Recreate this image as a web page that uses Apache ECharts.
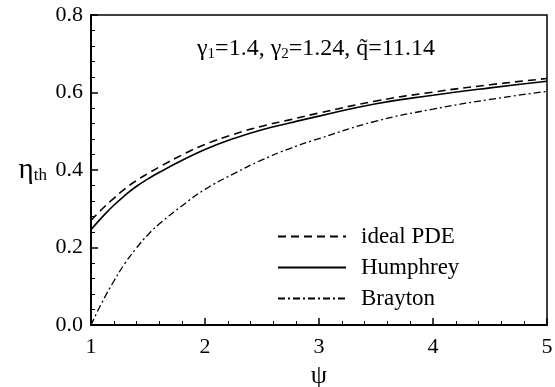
<!DOCTYPE html>
<html>
<head>
<meta charset="utf-8">
<script src="https://cdn.jsdelivr.net/npm/echarts@6/dist/echarts.min.js"></script>
<style>
  html, body { margin: 0; padding: 0; background: #fff; }
  #chart { width: 555px; height: 387px; }
</style>
</head>
<body>
<div id="chart"></div>
<script>
// psi values
const psi = [1.0, 1.1, 1.2, 1.3, 1.4, 1.5, 1.6, 1.8, 2.0, 2.25, 2.5, 2.75, 3.0, 3.5, 4.0, 4.5, 5.0]
const idealPDE = [0.27, 0.3, 0.327, 0.352, 0.373, 0.391, 0.408, 0.439, 0.466, 0.492, 0.513, 0.53, 0.547, 0.578, 0.601, 0.62, 0.636]
const humphrey = [0.246, 0.279, 0.309, 0.335, 0.358, 0.377, 0.394, 0.425, 0.453, 0.481, 0.504, 0.522, 0.539, 0.571, 0.593, 0.612, 0.629]
const brayton = [0.0, 0.06, 0.113, 0.16, 0.199, 0.233, 0.261, 0.308, 0.35, 0.39, 0.426, 0.456, 0.481, 0.526, 0.557, 0.582, 0.603]

const font = '"Liberation Serif", "DejaVu Serif", serif'
const pairs = (ys) => psi.map((x, i) => [x, ys[i]])

const myEcharts = echarts.init(document.getElementById('chart'))
myEcharts.setOption({
  animation: false,
  color: ['#000', '#000', '#000'],
  textStyle: { fontFamily: font, color: '#000' },
  grid: {
    left: 91, right: 8, top: 15, bottom: 62,
    outerBoundsMode: 'none',
    show: true, borderColor: '#000', borderWidth: 1.5
  },
  xAxis: {
    type: 'value',
    min: 1, max: 5, interval: 1,
    name: 'ψ',
    nameLocation: 'middle',
    nameGap: 31,
    nameTextStyle: { fontFamily: font, fontSize: 26, color: '#000' },
    axisLine: { lineStyle: { color: '#000', width: 2 } },
    axisTick: { inside: true, length: 7, lineStyle: { color: '#000', width: 1.5 } },
    minorTick: { show: true, splitNumber: 5, length: 4, lineStyle: { color: '#000', width: 1 } },
    axisLabel: { fontFamily: font, fontSize: 22, color: '#000', margin: 11 },
    splitLine: { show: false }
  },
  yAxis: {
    type: 'value',
    min: 0, max: 0.8, interval: 0.2,
    name: '{eta|η}{sub|th}',
    nameLocation: 'middle',
    nameRotate: 0,
    nameGap: 44,
    nameTextStyle: {
      rich: {
        eta: { fontFamily: font, fontSize: 29, color: '#000' },
        sub: { fontFamily: font, fontSize: 17, color: '#000', padding: [12, 0, 0, 0] }
      }
    },
    axisLine: { show: true, lineStyle: { color: '#000', width: 2 } },
    axisTick: { show: true, inside: true, length: 7, lineStyle: { color: '#000', width: 1.5 } },
    minorTick: { show: true, splitNumber: 5, length: 4, lineStyle: { color: '#000', width: 1 } },
    axisLabel: { fontFamily: font, fontSize: 22, color: '#000', margin: 8, formatter: (v) => v.toFixed(1) },
    splitLine: { show: false }
  },
  legend: {
    orient: 'vertical',
    left: 272,
    top: 220,
    itemWidth: 68,
    itemHeight: 14,
    itemGap: 8,
    itemStyle: { opacity: 0 },
    textStyle: { fontFamily: font, fontSize: 23, color: '#000', padding: [0, 0, 0, 10] },
    data: ['ideal PDE', 'Humphrey', 'Brayton']
  },
  graphic: [
    {
      type: 'text',
      left: 197,
      top: 37,
      style: {
        text: '{t|γ}{s|1}{t|=1.4, γ}{s|2}{t|=1.24, q\u0303=11.14}',
        rich: {
          t: { fontFamily: font, fontSize: 24, color: '#000' },
          s: { fontFamily: font, fontSize: 15, color: '#000', padding: [10, 0, 0, 0] }
        }
      }
    }
  ],
  series: [
    {
      name: 'ideal PDE',
      type: 'line',
      smooth: true,
      symbol: 'none',
      data: pairs(idealPDE),
      lineStyle: { color: '#000', width: 1.6, type: [8, 5] }
    },
    {
      name: 'Humphrey',
      type: 'line',
      smooth: true,
      symbol: 'none',
      data: pairs(humphrey),
      lineStyle: { color: '#000', width: 1.6, type: 'solid' }
    },
    {
      name: 'Brayton',
      type: 'line',
      smooth: true,
      symbol: 'none',
      data: pairs(brayton),
      lineStyle: { color: '#000', width: 1.3, type: [7, 3, 2, 3] }
    }
  ]
})
window.addEventListener('resize', () => {
  myEcharts.resize()
})
</script>
</body>
</html>
